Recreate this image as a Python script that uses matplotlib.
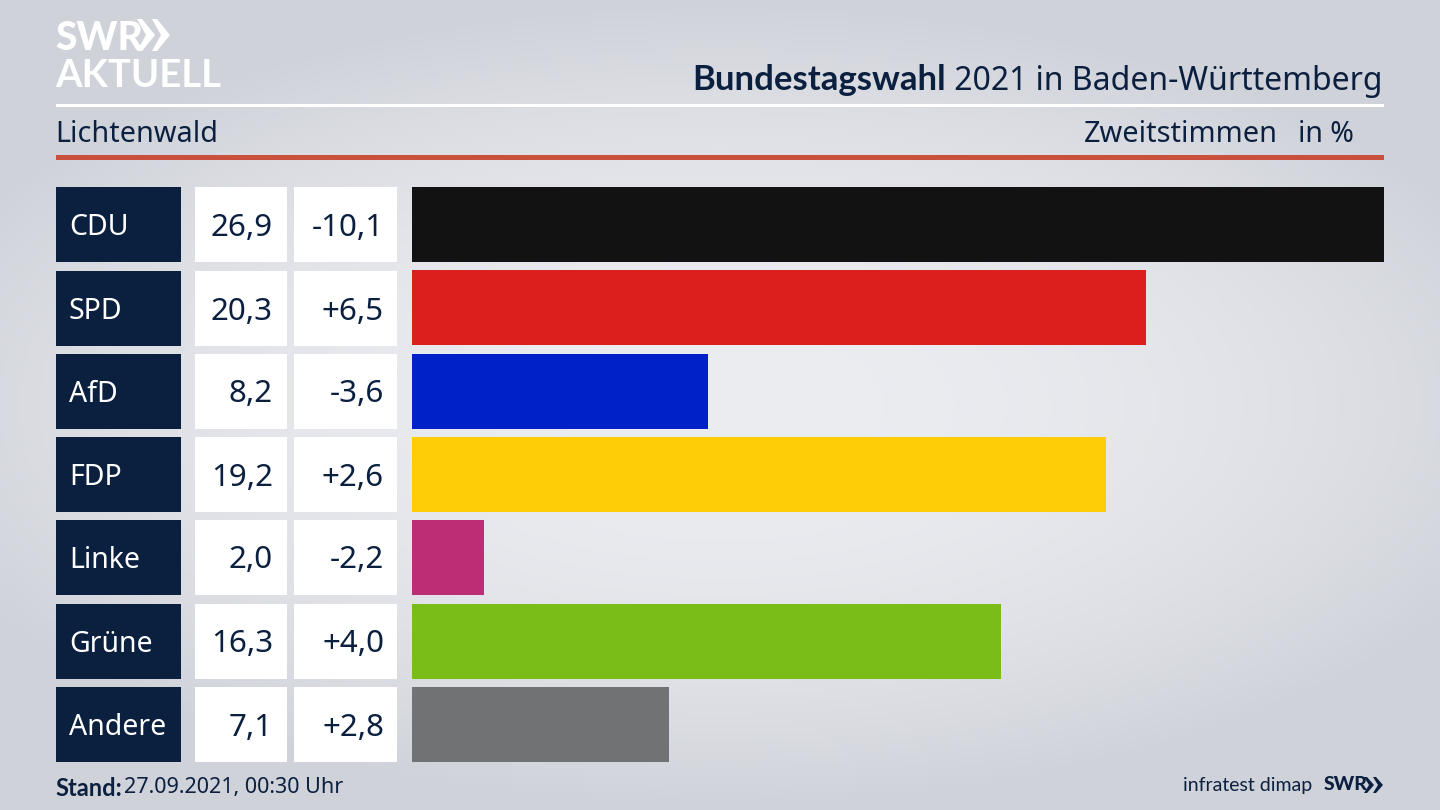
import numpy as np
import matplotlib
matplotlib.use('Agg')
import matplotlib.pyplot as plt
from matplotlib.patches import Rectangle, Polygon

plt.rcParams['font.family'] = ['Noto Sans', 'DejaVu Sans']
bold_font = ['Lato', 'DejaVu Sans']

parties = ['CDU', 'SPD', 'AfD', 'FDP', 'Linke', 'Grüne', 'Andere']
shares = [26.9, 20.3, 8.2, 19.2, 2.0, 16.3, 7.1]
changes = ['-10,1', '+6,5', '-3,6', '+2,6', '-2,2', '+4,0', '+2,8']
bar_colors = ['#121212', '#da1f1d', '#0021c8', '#ffcc08', '#bc2d75', '#7abd19', '#717274']

navy = '#0b1f3f'

fig = plt.figure(figsize=(14.4, 8.1), dpi=100)

# overlay in pixel coordinates for background and layout
ax = fig.add_axes([0, 0, 1, 1])
ax.set_xlim(0, 1440)
ax.set_ylim(810, 0)
ax.axis('off')

# background: grey edges, lighter in the middle
yy = np.linspace(-1, 1, 200)[:, None]
xx = np.linspace(-1, 1, 300)[None, :]
glow = np.clip(1 - (xx ** 2 * 0.7 + yy ** 2 * 1.0), 0, 1)
edge = np.array([207, 210, 217]) / 255
mid = np.array([236, 237, 241]) / 255
bg = edge + (mid - edge) * glow[..., None]
ax.imshow(bg, extent=[0, 1440, 810, 0], aspect='auto', zorder=0)

# header lines
ax.add_patch(Rectangle((56, 104), 1328, 3, color='white', lw=0))
ax.add_patch(Rectangle((56, 155), 1328, 5, color='#c9503c', lw=0))

# logo
ax.text(55, 50, 'SWR', color='white', fontsize=28, family=bold_font, fontweight='black', va='baseline', ha='left')
ax.text(55, 87, 'AKTUELL', color='white', fontsize=27.5, family=bold_font, fontweight='bold', va='baseline', ha='left')
for x0 in (137, 152):
    ax.add_patch(Polygon([(x0, 19), (x0 + 5, 19), (x0 + 18, 35), (x0 + 5, 51), (x0, 51), (x0 + 9, 35)],
                         color='white', lw=0))

# title
t2 = ax.text(1383, 81, ' 2021 in Baden-Württemberg', color=navy, fontsize=23, va='center', ha='right')
fig.canvas.draw()
bb = t2.get_window_extent()
ax.text(bb.x0 - 1, 80, 'Bundestagswahl', color=navy, fontsize=25, family=bold_font, fontweight='bold',
        va='center', ha='right')

ax.text(55, 134, 'Lichtenwald', color=navy, fontsize=20.7, va='center', ha='left')
ax.text(1278, 134, 'Zweitstimmen', color=navy, fontsize=20.8, va='center', ha='right')
ax.text(1354, 134, 'in %', color=navy, fontsize=20.5, va='center', ha='right')

# rows
row_tops = [187, 271, 354, 437, 520, 604, 687]
row_h = 75
for top, party, share, change in zip(row_tops, parties, shares, changes):
    cy = top + row_h / 2
    ax.add_patch(Rectangle((56, top), 125, row_h, color=navy, lw=0))
    ax.add_patch(Rectangle((195, top), 92, row_h, color='white', lw=0))
    ax.add_patch(Rectangle((294, top), 103, row_h, color='white', lw=0))
    ax.text(69, cy + 3, party, color='white', fontsize=20.5, va='center', ha='left')
    ax.text(273, cy + 3, f'{share:.1f}'.replace('.', ','), color=navy, fontsize=22.5, va='center', ha='right')
    ax.text(384, cy + 3, change, color=navy, fontsize=22.5, va='center', ha='right')

# footer
t3 = ax.text(55, 788, 'Stand:', color=navy, fontsize=17, family=bold_font, fontweight='bold', va='center', ha='left')
bb = t3.get_window_extent(fig.canvas.get_renderer())
ax.text(bb.x1 + 2, 788, '27.09.2021, 00:30 Uhr', color=navy, fontsize=15.5, va='center', ha='left')
ax.text(1312, 785, 'infratest dimap', color=navy, fontsize=14, family=bold_font, va='center', ha='right')
ax.text(1324, 785, 'SWR', color=navy, fontsize=14, family=bold_font, fontweight='black', va='center', ha='left')
for x0 in (1364, 1373):
    ax.add_patch(Polygon([(x0, 777), (x0 + 3, 777), (x0 + 10, 785), (x0 + 3, 793), (x0, 793), (x0 + 5, 785)],
                         color=navy, lw=0))

# bars on their own axes
bar_ax = fig.add_axes([412 / 1440, 1 - 762 / 810, 972 / 1440, 575 / 810])
bar_ax.patch.set_alpha(0)
bar_ax.barh(range(len(parties)), shares, height=0.9, color=bar_colors)
bar_ax.set_xlim(0, 26.9)
bar_ax.set_ylim(len(parties) - 0.55, -0.45)
bar_ax.axis('off')

fig.savefig('out.png', dpi=100)
